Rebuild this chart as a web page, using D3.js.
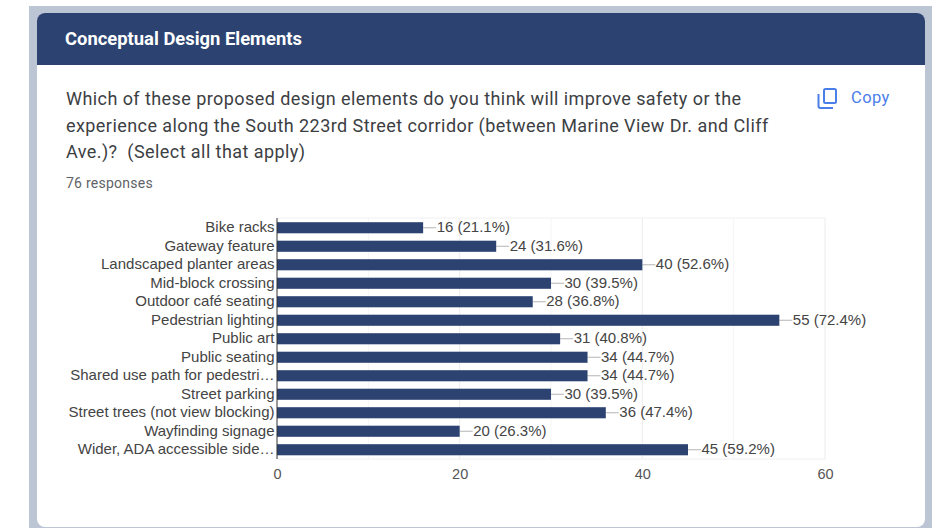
<!DOCTYPE html>
<html>
<head>
<meta charset="utf-8">
<script src="https://d3js.org/d3.v7.min.js"></script>
<style type="text/css">
  html, body { margin: 0; padding: 0; background: #fff; overflow: hidden; }
  svg { display: block; }
</style>
</head>
<body>
<script type="text/javascript">

var categories = ["Bike racks", "Gateway feature", "Landscaped planter areas", "Mid-block crossing",
  "Outdoor café seating", "Pedestrian lighting", "Public art", "Public seating",
  "Shared use path for pedestri…", "Street parking", "Street trees (not view blocking)",
  "Wayfinding signage", "Wider, ADA accessible side…"];
var counts = [16, 24, 40, 30, 28, 55, 31, 34, 34, 30, 36, 20, 45];
var percents = ["21.1", "31.6", "52.6", "39.5", "36.8", "72.4", "40.8", "44.7", "44.7", "39.5", "47.4", "26.3", "59.2"];
var majorTicks = [0, 20, 40, 60];
var minorTicks = [10, 30, 50];
var title = "Conceptual Design Elements";
var questionLines = ["Which of these proposed design elements do you think will improve safety or the",
  "experience along the South 223rd Street corridor (between Marine View Dr. and Cliff",
  "Ave.)?  (Select all that apply)"];

var navy = "#2c4371";
var svg = d3.select("body").append("svg").attr("width", 939).attr("height", 528);

// page frame and card
svg.append("rect").attr("x", 29).attr("y", 6).attr("width", 903).attr("height", 530).attr("fill", "#bcc5d4");
svg.append("rect").attr("x", 37).attr("y", 13).attr("width", 888).attr("height", 514).attr("rx", 8).attr("fill", "#fff");
svg.append("path").attr("fill", navy)
  .attr("d", "M37,65V21a8,8 0 0 1 8,-8H917a8,8 0 0 1 8,8V65Z");

svg.append("text").attr("x", 65).attr("y", 44.5)
  .attr("font-family", "Roboto").attr("font-weight", 700).attr("font-size", 18.4)
  .attr("fill", "#fff").text(title);

svg.selectAll(".question").data(questionLines).enter().append("text").attr("class", "question")
  .attr("x", 66).attr("y", function(d, i) { return 105 + i * 26.5; })
  .attr("font-family", "Roboto").attr("font-size", 18).attr("letter-spacing", 0.43)
  .attr("xml:space", "preserve").style("white-space", "pre")
  .attr("fill", "#3c4043").text(function(d) { return d; });

svg.append("text").attr("x", 66).attr("y", 188)
  .attr("font-family", "Roboto").attr("font-size", 14).attr("letter-spacing", 0.25)
  .attr("fill", "#5f6368").text("76 responses");

// copy button
var copy = svg.append("g").attr("fill", "none").attr("stroke", "#4a7ee8").attr("stroke-width", 2);
copy.append("path").attr("d", "M818.5,94V106a2,2 0 0 0 2,2H833");
copy.append("rect").attr("x", 824).attr("y", 89).attr("width", 12).attr("height", 14).attr("rx", 1.5);
svg.append("text").attr("x", 851).attr("y", 103)
  .attr("font-family", "Roboto").attr("font-size", 16.5).attr("letter-spacing", 0.4)
  .attr("fill", "#4a7ee8").text("Copy");

// chart
var x = d3.scaleLinear().domain([0, 60]).range([277, 825]);
var y = d3.scaleBand().domain(categories).range([218.5, 459]).paddingInner(0.4).paddingOuter(0.2);
var chartFont = "'Liberation Sans', Arial, sans-serif";

var grid = svg.append("g");
grid.selectAll(".minor").data(minorTicks).enter().append("line").attr("class", "minor")
  .attr("x1", x).attr("x2", x).attr("y1", 218).attr("y2", 459)
  .attr("stroke", "#f5f5f5");
grid.selectAll(".major").data(majorTicks.slice(1)).enter().append("line").attr("class", "major")
  .attr("x1", x).attr("x2", x).attr("y1", 218).attr("y2", 459)
  .attr("stroke", "#ececec");
grid.selectAll(".edge").data([218, 459]).enter().append("line").attr("class", "edge")
  .attr("x1", x(0)).attr("x2", x(60)).attr("y1", function(d) { return d; }).attr("y2", function(d) { return d; })
  .attr("stroke", "#f0f0f0");

var rows = categories.map(function(c, i) { return {name: c, count: counts[i], pct: percents[i]}; });

svg.selectAll(".leader").data(rows).enter().append("line").attr("class", "leader")
  .attr("x1", function(d) { return x(d.count); })
  .attr("x2", function(d) { return x(d.count) + 13; })
  .attr("y1", function(d) { return y(d.name) + y.bandwidth() / 2; })
  .attr("y2", function(d) { return y(d.name) + y.bandwidth() / 2; })
  .attr("stroke", "#b5b5b5");

svg.selectAll(".bar").data(rows).enter().append("rect").attr("class", "bar")
  .attr("x", x(0))
  .attr("y", function(d) { return y(d.name); })
  .attr("width", function(d) { return x(d.count) - x(0); })
  .attr("height", y.bandwidth())
  .attr("fill", navy);

svg.selectAll(".value").data(rows).enter().append("text").attr("class", "value")
  .attr("x", function(d) { return x(d.count) + 13.5; })
  .attr("y", function(d) { return y(d.name) + y.bandwidth() / 2 + 4.5; })
  .attr("font-family", chartFont).attr("font-size", 15).attr("fill", "#444")
  .text(function(d) { return d.count + " (" + d.pct + "%)"; });

svg.selectAll(".cat").data(rows).enter().append("text").attr("class", "cat")
  .attr("x", 274.5)
  .attr("y", function(d) { return y(d.name) + y.bandwidth() / 2 + 4.5; })
  .attr("text-anchor", "end")
  .attr("font-family", chartFont).attr("font-size", 15).attr("fill", "#444")
  .text(function(d) { return d.name; });

// x axis labels
var axis = svg.append("g").attr("transform", "translate(0,459)")
  .call(d3.axisBottom(x).tickValues(majorTicks).tickSize(0).tickPadding(10));
axis.select(".domain").remove();
axis.selectAll("text").attr("font-family", chartFont).attr("font-size", 14.5).attr("fill", "#555");

svg.append("line").attr("x1", x(0)).attr("x2", x(0)).attr("y1", 218).attr("y2", 459)
  .attr("stroke", "#333").attr("stroke-width", 1);

</script>
</body>
</html>
